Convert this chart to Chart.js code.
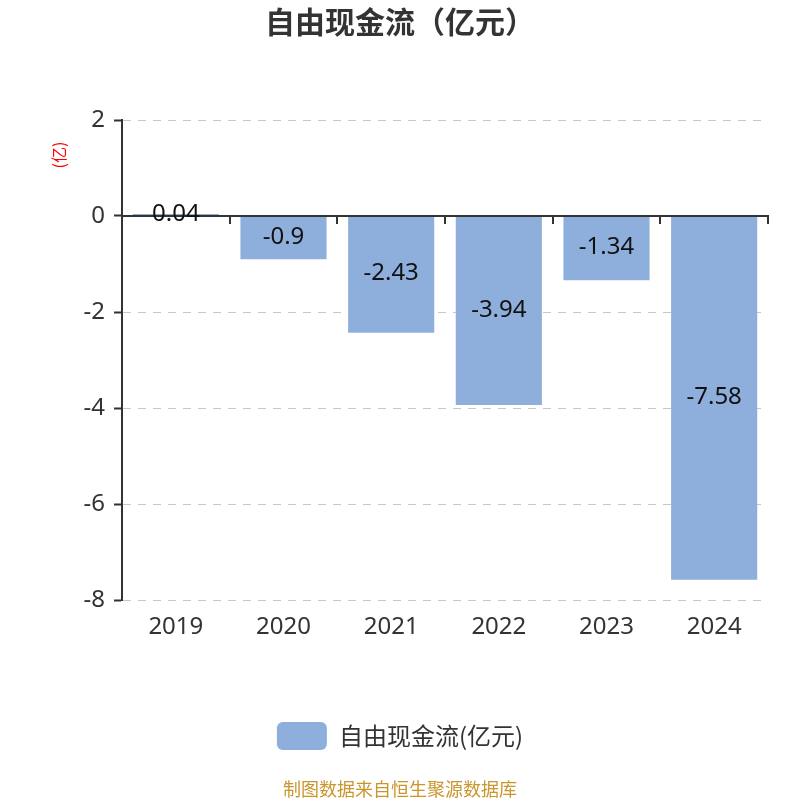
<!DOCTYPE html>
<html>
<head>
<meta charset="utf-8">
<script src="https://cdn.jsdelivr.net/npm/chart.js@4"></script>
<style>
  html, body { margin: 0; padding: 0; background: #ffffff; }
  #wrap { width: 800px; height: 800px; }
</style>
</head>
<body>
<div id="wrap"><canvas id="c" width="800" height="800"></canvas></div>
<script>
// Free cash flow by year (unit: 100 million yuan)
const years = ['2019', '2020', '2021', '2022', '2023', '2024'];
const freeCashFlow = [0.04, -0.9, -2.43, -3.94, -1.34, -7.58];
const yTicks = [2, 0, -2, -4, -6, -8];

const FONT = '"Noto Sans", "Open Sans", "Noto Sans CJK SC", sans-serif';
const CJK = '"Noto Sans CJK SC", "Noto Sans", sans-serif';

// Zero baseline with category tick marks, then the value labels on the bars
const overlayPlugin = {
  id: 'overlay',
  afterDatasetsDraw(chart) {
    const { ctx, chartArea, scales } = chart;
    const y = scales.y;
    const y0 = Math.round(y.getPixelForValue(0));
    ctx.save();
    ctx.strokeStyle = '#333333';
    ctx.lineWidth = 2;
    ctx.beginPath();
    ctx.moveTo(chartArea.left, y0);
    ctx.lineTo(chartArea.right + 1, y0);
    const step = (chartArea.right - chartArea.left) / years.length;
    for (let i = 1; i <= years.length; i++) {
      const px = Math.round(chartArea.left + step * i);
      ctx.moveTo(px, y0);
      ctx.lineTo(px, y0 + 8);
    }
    ctx.stroke();

    const meta = chart.getDatasetMeta(0);
    ctx.fillStyle = '#111111';
    ctx.font = '24px ' + FONT;
    ctx.textAlign = 'center';
    ctx.textBaseline = 'middle';
    meta.data.forEach((bar, i) => {
      const v = freeCashFlow[i];
      const cy = (bar.y + bar.base) / 2;
      ctx.fillText(String(v), bar.x, cy - 1);
    });

    // unit label beside the value axis
    ctx.translate(59, 155);
    ctx.rotate(-Math.PI / 2);
    ctx.fillStyle = '#ff0000';
    ctx.font = '16px ' + CJK;
    ctx.fillText('(亿)', 0, 0);
    ctx.restore();
  },
  afterDraw(chart) {
    const { ctx } = chart;
    ctx.save();
    ctx.fillStyle = '#c9962b';
    ctx.font = '18px ' + CJK;
    ctx.textAlign = 'center';
    ctx.textBaseline = 'middle';
    ctx.fillText('制图数据来自恒生聚源数据库', 400, 789);
    ctx.restore();
  }
};

new Chart(document.getElementById('c'), {
  type: 'bar',
  data: {
    labels: years,
    datasets: [{
      label: '自由现金流(亿元)',
      data: freeCashFlow,
      backgroundColor: '#8eaedb',
      borderWidth: 0,
      barPercentage: 0.8,
      categoryPercentage: 1.0
    }]
  },
  options: {
    responsive: false,
    animation: false,
    layout: { padding: { left: 0, right: 0, top: 0, bottom: 40 } },
    plugins: {
      title: {
        display: true,
        text: '自由现金流（亿元）',
        color: '#333333',
        font: { family: CJK, size: 30, weight: 'bold' },
        padding: { top: 4, bottom: 80 }
      },
      legend: {
        display: true,
        position: 'bottom',
        labels: {
          color: '#333333',
          font: { family: CJK, size: 24 },
          boxWidth: 50,
          boxHeight: 28,
          useBorderRadius: true,
          borderRadius: 6,
          padding: 10
        }
      },
      tooltip: { enabled: false }
    },
    scales: {
      x: {
        grid: { display: false, drawTicks: false },
        border: { display: false },
        ticks: { color: '#333333', font: { family: FONT, size: 24 }, padding: 13 },
        afterFit(scale) { scale.height = 112; }
      },
      y: {
        min: -8,
        max: 2,
        afterBuildTicks(scale) { scale.ticks = yTicks.map(v => ({ value: v })); },
        grid: {
          color: '#c8c8c8',
          lineWidth: 1,
          tickColor: '#333333',
          tickWidth: 2,
          tickLength: 8,
          tickBorderDash: [1, 0]
        },
        border: { display: true, color: '#333333', width: 2, dash: [8, 7] },
        ticks: { color: '#333333', font: { family: FONT, size: 24 }, padding: 9 },
        afterFit(scale) { scale.width = 122; }
      },
      // empty margin on the right of the plot
      yRight: {
        position: 'right',
        display: true,
        grid: { display: false, drawTicks: false },
        border: { display: false },
        ticks: { display: false },
        afterFit(scale) { scale.width = 32; }
      }
    }
  },
  plugins: [overlayPlugin]
});
</script>
</body>
</html>
